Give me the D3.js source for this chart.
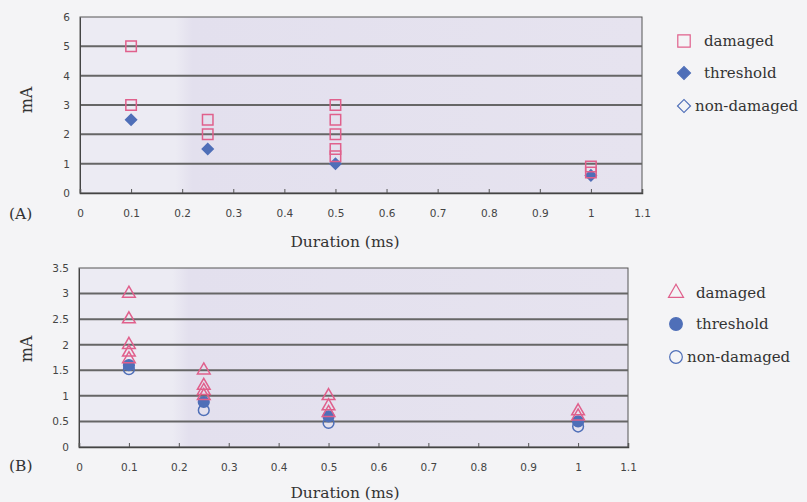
<!DOCTYPE html>
<html><head><meta charset="utf-8">
<script src="https://cdn.jsdelivr.net/npm/d3@7/dist/d3.min.js"></script>
<style>body{margin:0;background:#f4f4f6;} svg{display:block;}</style>
</head><body>
<svg id="c" width="807" height="502"></svg>
<script>
// ---- data ----
const xTicks = [0,0.1,0.2,0.3,0.4,0.5,0.6,0.7,0.8,0.9,1,1.1];
const yTicksA = [0,1,2,3,4,5,6];
const yTicksB = [0,0.5,1,1.5,2,2.5,3,3.5];
const legendLabels = ["damaged","threshold","non-damaged"];

const damagedA = [[0.1,5],[0.1,3],[0.25,2.5],[0.25,2],[0.5,3],[0.5,2.5],[0.5,2],[0.5,1.5],[0.5,1.25],[1,0.9],[1,0.7]];
const thresholdA = [[0.1,2.5],[0.25,1.5],[0.5,1.0],[1,0.6]];
const nonDamagedA = [];

const damagedB = [[0.1,3],[0.1,2.5],[0.1,2],[0.1,1.85],[0.1,1.72],[0.25,1.5],[0.25,1.2],[0.25,1.1],[0.25,1.0],[0.5,1.0],[0.5,0.8],[0.5,0.67],[1,0.7],[1,0.6]];
const thresholdB = [[0.1,1.6],[0.25,0.88],[0.5,0.6],[1,0.5]];
const nonDamagedB = [[0.1,1.52],[0.25,0.72],[0.5,0.47],[1,0.4]];

const PINK = "#e0608c", BLUE = "#4f6fb8";
const svg = d3.select("#c");
const defs = svg.append("defs");
const grad = defs.append("linearGradient").attr("id","bg").attr("x1","0").attr("x2","1");
grad.append("stop").attr("offset","0").attr("stop-color","#ecebf3");
grad.append("stop").attr("offset","0.17").attr("stop-color","#ecebf3");
grad.append("stop").attr("offset","0.2").attr("stop-color","#e3e0ee");
grad.append("stop").attr("offset","1").attr("stop-color","#e6e3ef");

const DIAMOND = "diamond";
function sym(type,size){
  if(type===DIAMOND) return d3.symbol().type(d3.symbolSquare).size(size)();
  return d3.symbol().type(type).size(size)();
}
function rot(type){ return type===DIAMOND ? " rotate(45)" : ""; }

function panel(cfg){
  const x = d3.scaleLinear().domain([0,1.1]).range([cfg.x0,cfg.x1]);
  const y = d3.scaleLinear().domain([0,cfg.ymax]).range([cfg.y0,cfg.y1]);
  const g = svg.append("g");
  g.append("rect").attr("x",x(0)).attr("y",y(cfg.ymax)).attr("width",x(1.1)-x(0)).attr("height",y(0)-y(cfg.ymax))
    .attr("fill","url(#bg)").attr("stroke","#555").attr("stroke-width",1);
  g.selectAll(".grid").data(cfg.yTicks.filter(v=>v>0 && v<cfg.ymax)).join("line")
    .attr("x1",x(0)).attr("x2",x(1.1)).attr("y1",d=>y(d)).attr("y2",d=>y(d))
    .attr("stroke","#666").attr("stroke-width",2);
  const ya = d3.axisLeft(y).tickValues(cfg.yTicks).tickSize(0).tickPadding(10).tickFormat(d=>d);
  const yg = g.append("g").attr("transform",`translate(${x(0)},0)`).call(ya);
  yg.select(".domain").attr("stroke","#444");
  yg.selectAll("text").attr("font-family","DejaVu Sans").attr("font-size",10.5).attr("fill","#444");
  const xa = d3.axisBottom(x).tickValues(xTicks).tickSize(-4).tickPadding(17).tickFormat(d=>d);
  const xg = g.append("g").attr("transform",`translate(0,${y(0)})`).call(xa);
  xg.select(".domain").attr("stroke","#444").attr("stroke-width",1.5);
  xg.selectAll(".tick line").attr("stroke","#555");
  xg.selectAll("text").attr("font-family","DejaVu Sans").attr("font-size",10.5).attr("fill","#444");
  g.append("text").attr("x",345).attr("y",cfg.xt).attr("text-anchor","middle")
    .attr("font-family","DejaVu Serif").attr("font-size",15.5).attr("fill","#333").text("Duration (ms)");
  g.append("text").attr("transform",`translate(32,${cfg.yt}) rotate(-90)`).attr("text-anchor","middle")
    .attr("font-family","DejaVu Serif").attr("font-size",16).attr("fill","#333").text("mA");
  g.append("text").attr("x",9).attr("y",cfg.lt).attr("font-family","DejaVu Serif").attr("font-size",15.5).attr("fill","#333").text(cfg.label);
  const draw = (data,type,size,fill,stroke)=>g.append("g").selectAll("path").data(data).join("path")
    .attr("transform",d=>`translate(${x(d[0])},${y(d[1])})${rot(type)}`).attr("d",sym(type,size))
    .attr("fill",fill).attr("stroke",stroke).attr("stroke-width",1.5);
  draw(cfg.non,cfg.s3,cfg.sz3,"none",BLUE);
  draw(cfg.thr,cfg.s2,cfg.sz2,BLUE,BLUE);
  draw(cfg.dam,cfg.s1,cfg.sz1,"none",PINK);
  const lg = g.append("g");
  const items = [[cfg.s1,cfg.sz1,"none",PINK],[cfg.s2,cfg.sz2,BLUE,BLUE],[cfg.s3,cfg.sz3,"none",BLUE]];
  items.forEach((it,i)=>{
    const yy = cfg.legY[i];
    lg.append("path").attr("transform",`translate(${cfg.legX},${yy})${rot(it[0])}`).attr("d",sym(it[0],it[1]*1.4))
      .attr("fill",it[2]).attr("stroke",it[3]).attr("stroke-width",1.2);
    lg.append("text").attr("x",cfg.legX+ (i==2?11:20)).attr("y",yy+5).attr("font-family","DejaVu Serif")
      .attr("font-size",15).attr("fill","#333").text(legendLabels[i]);
  });
}

panel({x0:80,x1:642,y0:193,y1:17,ymax:6,yTicks:yTicksA,xt:247,yt:100,lt:219,label:"(A)",
  dam:damagedA,thr:thresholdA,non:nonDamagedA,
  s1:d3.symbolSquare,sz1:110,s2:DIAMOND,sz2:60,s3:DIAMOND,sz3:60,
  legX:684,legY:[41,73,106]});
panel({x0:79,x1:628,y0:447,y1:268,ymax:3.5,yTicks:yTicksB,xt:498,yt:349,lt:471,label:"(B)",
  dam:damagedB,thr:thresholdB,non:nonDamagedB,
  s1:d3.symbolTriangle,sz1:70,s2:d3.symbolCircle,sz2:90,s3:d3.symbolCircle,sz3:90,
  legX:676,legY:[293,324,357]});
</script>
</body></html>
